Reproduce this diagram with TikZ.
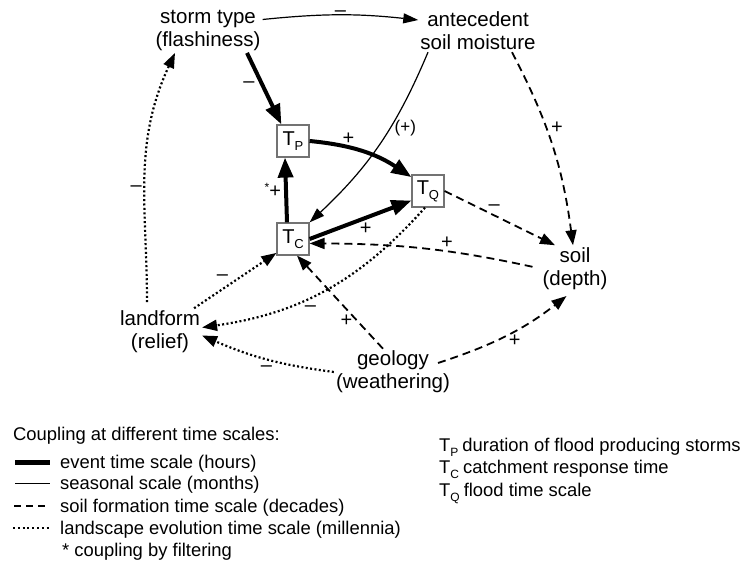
\documentclass[tikz,border=0pt]{standalone}
\usepackage{fontspec}
\setmainfont{Liberation Sans}
\usetikzlibrary{arrows.meta}
\newcommand\Tsub[1]{T\kern-0.3pt\raisebox{-5pt}{\fontsize{13}{13}\selectfont #1}}
\newcommand\LegT[1]{T\raisebox{-5pt}{\fontsize{12}{12}\selectfont #1}\hspace{4pt}}
\begin{document}
\begin{tikzpicture}[x=1pt,y=1pt,
  lbl/.style={font=\fontsize{20.5}{23}\selectfont, align=center, inner sep=2pt},
  tbox/.style={draw=black!55, line width=1.2pt, minimum width=32pt, minimum height=32pt, inner sep=0pt, font=\fontsize{20}{20}\selectfont},
  sgn/.style={font=\fontsize{20}{20}\selectfont, inner sep=1pt},
  evt/.style={line width=4pt, -{Triangle[length=20pt,width=15pt]}},
  seas/.style={line width=1.2pt, -{Triangle[length=15pt,width=10pt]}},
  soilf/.style={line width=1.8pt, dash pattern=on 8pt off 5pt, -{Triangle[length=15pt,width=11pt]}},
  landev/.style={line width=2.2pt, dash pattern=on 2pt off 2.4pt, -{Triangle[length=15pt,width=11pt]}},
  legtext/.style={font=\fontsize{18.4}{22}\selectfont, anchor=base west, inner sep=0pt}
]
\useasboundingbox (0,0) rectangle (742,564);

\node[lbl] (storm) at (208,533.5) {storm type\\(flashiness)};
\node[lbl] (ante) at (478,533) {antecedent\\soil moisture};
\node[tbox] (tp) at (293,423) {\Tsub{P}};
\node[tbox] (tq) at (428,373) {\Tsub{Q}};
\node[tbox] (tc) at (293,325) {\Tsub{C}};
\node[lbl] (soil) at (575,295.5) {soil\\(depth)};
\node[lbl] (land) at (160,232.5) {landform\\(relief)};
\node[lbl] (geo) at (393,192) {geology\\(weathering)};

% event scale
\draw[evt] ([xshift=39]storm.south) -- node[sgn, pos=.45, left=5pt] {\textendash} (tp.125);
\draw[evt] (tp.east) to[bend left=14] node[sgn, pos=.35, above=0pt] {+} (tq.140);
\draw[evt] (tc.east) -- node[sgn, pos=.55, below=2pt] {+} (tq.-150);
\draw[evt] ([xshift=-6]tc.north) -- node[sgn, left=2pt] {\raisebox{6pt}{\fontsize{12}{12}\selectfont *}+} ([xshift=-8]tp.south);

% seasonal
\draw[seas] ([yshift=11]storm.east) to[bend left=6] node[sgn, above=-3pt] {\textendash} ([yshift=11]ante.west);
\draw[seas] ([xshift=-50]ante.south) to[bend left=12] node[pos=.4, right=1pt, font=\fontsize{17}{17}\selectfont] {(+)} (tc.north east);

% soil formation
\draw[soilf] ([xshift=34]ante.south) to[bend left=10] node[sgn, pos=.4, right=3pt] {+} ([xshift=-2]soil.north);
\draw[soilf] (tq.east) -- node[sgn, pos=.45, above=3pt] {\textendash} ([xshift=-20]soil.north);
\draw[soilf, shorten <=8pt] (soil.west) to[bend right=6] node[sgn, pos=.4, above=1pt] {+} (tc.-15);
\draw[soilf] ([xshift=-10]geo.north) -- node[sgn, pos=.3, left=3pt] {+} ([xshift=4]tc.south);
\draw[soilf, shorten >=7pt] ([xshift=45,yshift=9]geo.center) to[bend right=10] node[sgn, pos=.55, below=2pt] {+} ([xshift=-3]soil.south);

% landscape evolution
\draw[landev] ([xshift=-3]tq.south) to[bend left=20] node[sgn, pos=.57, below=6pt] {\textendash} ([yshift=4]land.east);
\draw[landev] ([xshift=-8]land.north east) -- node[sgn, pos=.45, above left=1pt] {\textendash} (tc.-140);
\draw[landev] (geo.west) to[bend left=8] node[sgn, below=5pt] {\textendash} ([yshift=-4]land.east);
\draw[landev, shorten <=6pt] ([xshift=-13]land.north) to[out=90,in=-115] node[sgn, pos=.45, left=1pt] {\textendash} ([xshift=-33]storm.south);

% legend
\node[legtext] (legh) at (13,123.5) {Coupling at different time scales:};
\draw[line width=4.5pt] (15,101.3) -- (50,101.3);
\draw[line width=1.2pt] (15,80.7) -- (50,80.7);
\draw[line width=1.8pt, dash pattern=on 7pt off 5pt] (14,58) -- (50,58);
\draw[line width=2pt, dash pattern=on 2pt off 2.8pt] (13,36.3) -- (50,36.3);
\node[legtext] (l1) at (60,95.5) {event time scale (hours)};
\node[legtext] (l2) at (60,74) {seasonal scale (months)};
\node[legtext] (l3) at (60,51.5) {soil formation time scale (decades)};
\node[legtext] (l4) at (60,29.5) {landscape evolution time scale (millennia)};
\node[legtext] (l5) at (62,7.5) {* coupling by filtering};

\node[legtext] (r1) at (439,112.5) {\LegT{P}duration of flood producing storms};
\node[legtext] (r2) at (439,90) {\LegT{C}catchment response time};
\node[legtext] (r3) at (439,67.5) {\LegT{Q}flood time scale};
\end{tikzpicture}
\end{document}
